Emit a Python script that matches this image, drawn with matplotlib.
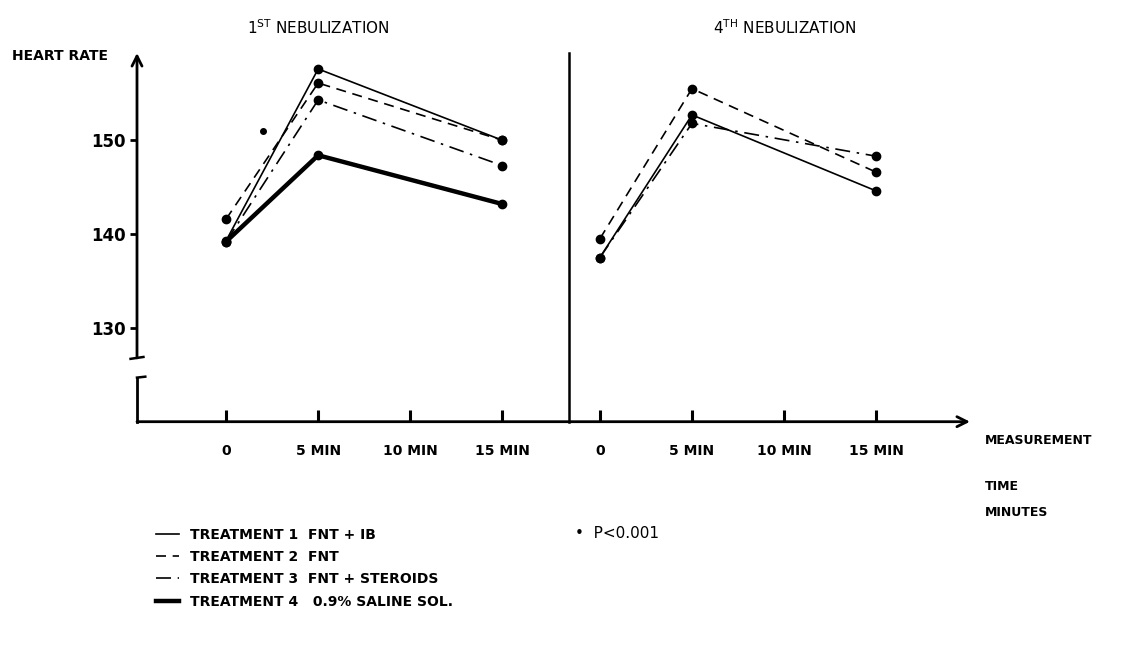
import matplotlib.pyplot as plt
from matplotlib.lines import Line2D

# measurement times (min)
minutes = [0, 5, 15]
tick_minutes = [0, 5, 10, 15]
tick_labels = ['0', '5 MIN', '10 MIN', '15 MIN']

# 1st nebulization, heart rate
neb1_t1 = [139.3, 157.6, 150.0]
neb1_t2 = [141.6, 156.1, 150.0]
neb1_t3 = [139.2, 154.3, 147.3]
neb1_t4 = [139.2, 148.4, 143.2]

# 4th nebulization, heart rate (no saline line)
neb4_t1 = [137.5, 152.7, 144.6]
neb4_t2 = [139.5, 155.5, 146.6]
neb4_t3 = [137.5, 151.8, 148.3]

# significance marker
star_x = 2.0
star_y = 151.0

labels = ['TREATMENT 1  FNT + IB', 'TREATMENT 2  FNT',
          'TREATMENT 3  FNT + STEROIDS', 'TREATMENT 4   0.9% SALINE SOL.']

shift = 20.3      # x offset of the 4th nebulization panel
x_left = -4.84
x_right = 40.4
y_base = 120.0
y_top = 159.3

plt.rcParams['font.family'] = ['DejaVu Sans']

fig = plt.figure(figsize=(11.21, 6.67), dpi=100)
ax = fig.add_axes([137/1121, 1-421.7/667, 833/1121, 368.7/667])
ax.set_xlim(x_left, x_right)
ax.set_ylim(y_base, y_top)
for s in ax.spines.values():
    s.set_visible(False)

styles = [dict(ls='-', lw=1.2), dict(ls=(0, (6, 4)), lw=1.2),
          dict(ls=(0, (9, 4, 1.5, 4)), lw=1.2), dict(ls='-', lw=3.2)]

neb1 = [neb1_t1, neb1_t2, neb1_t3, neb1_t4]
neb4 = [neb4_t1, neb4_t2, neb4_t3]

for i, ys in enumerate(neb1):
    ax.plot(minutes, ys, color='black', marker='o', ms=6, label=labels[i],
            clip_on=False, **styles[i])
for i, ys in enumerate(neb4):
    ax.plot([m + shift for m in minutes], ys, color='black', marker='o', ms=6,
            clip_on=False, **styles[i])

ax.plot(star_x, star_y, 'o', color='black', ms=4)

# axes drawn by hand (broken y axis, arrows)
ax.annotate('', xy=(x_left, y_top), xytext=(x_left, 126.8),
            arrowprops=dict(arrowstyle='->', lw=2, color='black',
                            mutation_scale=18, shrinkA=0, shrinkB=0))
ax.plot([x_left - 0.35, x_left + 0.35], [126.7, 126.9], color='black', lw=1.8, clip_on=False)
ax.plot([x_left, x_left], [y_base, 124.7], color='black', lw=2, clip_on=False)
ax.plot([x_left, x_left + 0.45], [124.7, 124.8], color='black', lw=1.8, clip_on=False)
ax.annotate('', xy=(x_right, y_base), xytext=(x_left, y_base),
            arrowprops=dict(arrowstyle='->', lw=2, color='black',
                            mutation_scale=18, shrinkA=0, shrinkB=0),
            annotation_clip=False)
ax.plot([18.6, 18.6], [y_base, y_top], color='black', lw=1.8, clip_on=False)

ax.set_yticks([130, 140, 150])
ax.set_yticklabels(['130', '140', '150'], fontsize=12, fontweight='bold')
ax.tick_params(axis='y', direction='out', length=5, width=2, pad=3)

xt = tick_minutes + [m + shift for m in tick_minutes]
ax.set_xticks(xt)
ax.set_xticklabels(tick_labels + tick_labels, fontsize=10, fontweight='semibold')
ax.tick_params(axis='x', direction='in', length=9, width=2.2, pad=16)

# titles
fig.text(318/1121, 1-28/667, r'1$^{\mathrm{ST}}$ NEBULIZATION', ha='center', va='center', fontsize=11)
fig.text(785/1121, 1-28/667, r'4$^{\mathrm{TH}}$ NEBULIZATION', ha='center', va='center', fontsize=11)
fig.text(12/1121, 1-56/667, 'HEART RATE', ha='left', va='center', fontsize=10, fontweight='bold')
fig.text(985/1121, 1-441/667, 'MEASUREMENT', ha='left', va='center', fontsize=9, fontweight='bold')
fig.text(985/1121, 1-486/667, 'TIME', ha='left', va='center', fontsize=9, fontweight='bold')
fig.text(985/1121, 1-513/667, 'MINUTES', ha='left', va='center', fontsize=9, fontweight='bold')

handles = [Line2D([], [], color='black', **st) for st in styles]
fig.legend(handles, labels, loc='upper left', bbox_to_anchor=(150/1121, 1-522/667),
           frameon=False, prop=dict(size=10, weight='semibold'), handlelength=1.7,
           labelspacing=0.6, handletextpad=0.8, borderaxespad=0)

fig.text(575/1121, 1-533/667, '•  P<0.001', ha='left', va='center', fontsize=11)

fig.savefig('out.png', dpi=100)
